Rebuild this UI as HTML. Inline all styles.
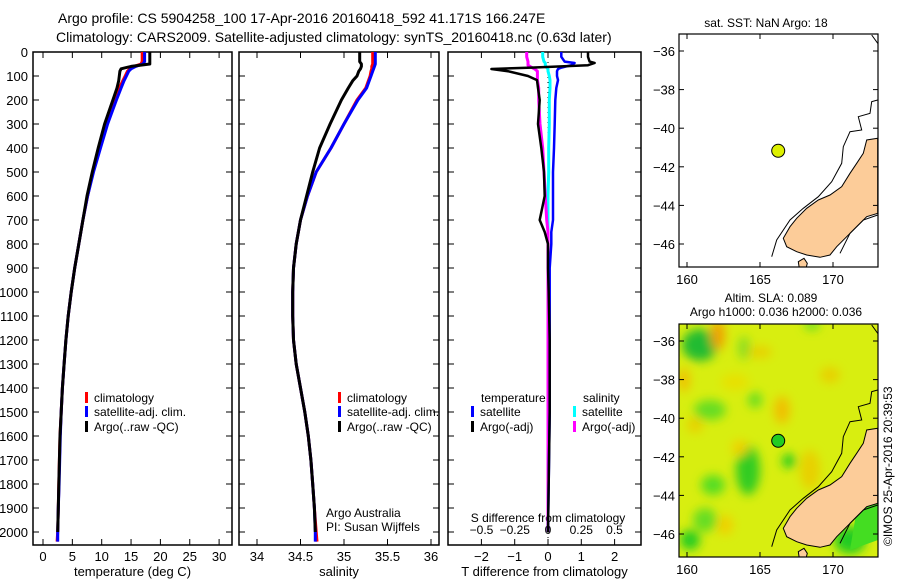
<!DOCTYPE html>
<html><head><meta charset="utf-8">
<style>
body{margin:0;background:#fff;}
svg{display:block;font-family:"Liberation Sans",sans-serif;}
text{fill:#000;}
</style></head>
<body>
<svg id="fig" width="900" height="580" viewBox="0 0 900 580">
<text x="58" y="23" font-size="14">Argo profile: CS 5904258_100 17-Apr-2016 20160418_592 41.171S 166.247E</text>
<text x="56" y="42" font-size="14">Climatology: CARS2009. Satellite-adjusted climatology: synTS_20160418.nc (0.63d later)</text>
<g id="p1"></g>
<g id="p2"></g>
<g id="p3"></g>
<g id="m1"></g>
<g id="m2"></g>
<text transform="translate(892,546) rotate(-90)" font-size="12">©IMOS 25-Apr-2016 20:39:53</text>
</svg>
<script>
// ---------- data ----------
const depths = [0,40,50,60,70,80,100,120,150,200,300,400,500,600,700,800,900,1000,1100,1200,1300,1400,1500,1600,1700,1800,1900,2000,2040];
const tempClim = [16.9,16.9,16.7,15.5,14.8,14.4,14.0,13.6,13.0,12.2,10.8,9.6,8.5,7.6,6.8,6.1,5.4,4.8,4.3,3.9,3.6,3.3,3.1,2.9,2.8,2.7,2.6,2.5,2.4];
const tempSat = [17.3,17.3,17.0,15.8,15.0,14.6,14.2,13.8,13.3,12.5,11.0,9.8,8.6,7.6,6.8,6.1,5.4,4.8,4.3,3.9,3.6,3.3,3.1,2.95,2.85,2.75,2.6,2.5,2.5];
const tempArgo = [18.2,18.2,18.2,15.0,13.3,13.1,13.0,12.9,12.6,11.9,10.5,9.4,8.4,7.5,6.8,6.1,5.4,4.8,4.3,3.9,3.6,3.3,3.1,2.9,2.8,2.7,2.6,2.5,NaN];
const salClim = [35.33,35.33,35.33,35.32,35.32,35.31,35.3,35.28,35.25,35.15,35.0,34.85,34.68,34.58,34.5,34.45,34.42,34.41,34.41,34.42,34.45,34.5,34.55,34.59,34.62,34.64,34.66,34.68,34.69];
const salSat = [35.36,35.36,35.36,35.35,35.34,35.33,35.31,35.29,35.26,35.16,35.0,34.85,34.68,34.58,34.5,34.45,34.42,34.41,34.41,34.42,34.45,34.5,34.55,34.59,34.62,34.64,34.66,34.67,34.67];
const salArgo = [35.18,35.18,35.2,35.2,35.19,35.17,35.15,35.1,35.05,34.97,34.84,34.72,34.64,34.57,34.5,34.45,34.42,34.41,34.41,34.42,34.45,34.5,34.55,34.59,34.62,34.64,34.66,34.67,NaN];
const diffDepths = [0,20,40,46,55,65,71,80,100,117,150,200,300,400,500,600,700,750,800,900,1000,1200,1500,2000];
const tDiffArgo = [1.2,1.2,1.25,1.4,1.2,-0.5,-1.7,-1.2,-0.6,-0.33,-0.3,-0.25,-0.3,-0.2,-0.12,-0.1,-0.25,-0.1,0,0,0.02,0.05,0.05,0];
const tDiffSat = [0.4,0.4,0.5,0.8,0.7,0.4,0.3,0.27,0.27,0.3,0.25,0.22,0.2,0.18,0.15,0.15,0.15,0.1,0.1,0.05,0.05,0.05,0.05,0];
const sDiffArgo = [-0.16,-0.16,-0.15,-0.15,-0.15,-0.12,-0.1,-0.08,-0.08,-0.08,-0.07,-0.07,-0.06,-0.04,-0.03,-0.02,-0.01,0,0,0,0,0,0,0];
const sDiffSat = [-0.04,-0.04,-0.03,-0.02,-0.02,-0.01,0,0,0.01,0.015,0.015,0.01,0.01,0.005,0.005,0,0,0,0,0,0,0,0,0];
const depthTicks = [0,100,200,300,400,500,600,700,800,900,1000,1100,1200,1300,1400,1500,1600,1700,1800,1900,2000];
const tempTicks = [0,5,10,15,20,25,30];
const salTicks = [34,34.5,35,35.5,36];
const tDiffTicks = [-2,-1,0,1,2];
const sDiffTicks = [-0.5,-0.25,0,0.25,0.5];
const sDiffTickLabels = ["\u22120.5","\u22120.25","0","0.25","0.5"];
const latTicks = [-36,-38,-40,-42,-44,-46];
const lonTicks = [160,165,170];
const argoLon = 166.247, argoLat = -41.171;

const NS = "http://www.w3.org/2000/svg";
function mk(parent, tag, attrs, txt){
  const e = document.createElementNS(NS, tag);
  for (const k in attrs) e.setAttribute(k, attrs[k]);
  if (txt !== undefined) e.textContent = txt;
  parent.appendChild(e); return e;
}
const TOP = 52, BOT = 545;
function yD(d){ return 52 + d*0.24; }

function panel(g, x0, x1, xs, ticks, labels, xlabel){
  const r = mk(g,'rect',{x:x0,y:TOP,width:x1-x0,height:BOT-TOP,fill:'none',stroke:'#000','stroke-width':1.5});
  
  
  depthTicks.forEach(d=>{
    const y = yD(d);
    mk(g,'line',{x1:x0,x2:x0+6,y1:y,y2:y,stroke:'#000'});
    mk(g,'line',{x1:x1-6,x2:x1,y1:y,y2:y,stroke:'#000'});
  });
  ticks.forEach((t,i)=>{
    const x = xs(t);
    mk(g,'line',{x1:x,x2:x,y1:TOP,y2:TOP+6,stroke:'#000'});
    mk(g,'line',{x1:x,x2:x,y1:BOT-6,y2:BOT,stroke:'#000'});
    if(labels){
      const tl = mk(g,'text',{x:x,y:BOT+16,'font-size':13,'text-anchor':'middle'},labels[i]);
      
      
    }
  });
  if(xlabel){
    const xl = mk(g,'text',{x:(x0+x1)/2,y:BOT+31,'font-size':13,'text-anchor':'middle'},xlabel);
    
    
  }
}
function series(g, xs, ds, vs, color, w, name){
  let d='', pen=false;
  ds.forEach((dep,i)=>{
    const v = vs[i];
    if(isNaN(v)){ pen=false; return; }
    d += (pen?'L':'M') + xs(v).toFixed(1) + ',' + yD(dep).toFixed(1) + ' ';
    pen = true;
  });
  const p = mk(g,'path',{d:d,fill:'none',stroke:color,'stroke-width':w,'stroke-linejoin':'round'});
  
  
}
function legendItem(g,x,y,color,label,name){
  mk(g,'rect',{x:x,y:y-10,width:3,height:11,fill:color});
  const t = mk(g,'text',{x:x+9,y:y,'font-size':12},label);
  
  
}

// Panel 1: temperature
const p1 = document.getElementById('p1');
const xT = v => 43 + v*5.87;
panel(p1,33,232,xT,tempTicks,tempTicks.map(String),'temperature (deg C)');
depthTicks.forEach(d=>{
  const t = mk(p1,'text',{x:28,y:yD(d)+5,'font-size':13,'text-anchor':'end'},String(d));
  
  
});
series(p1,xT,depths,tempClim,'#ff0000',3,'temp-climatology-line');
series(p1,xT,depths,tempSat,'#0000ff',3,'temp-satellite-line');
series(p1,xT,depths,tempArgo,'#000000',3,'temp-argo-line');
legendItem(p1,85,402,'#ff0000','climatology','legend-climatology');
legendItem(p1,85,416,'#0000ff','satellite-adj. clim.','legend-satellite');
legendItem(p1,85,431,'#000000','Argo(..raw -QC)','legend-argo');

// Panel 2: salinity
const p2 = document.getElementById('p2');
const xS = v => 257 + (v-34)*87;
panel(p2,239,439,xS,salTicks,salTicks.map(String),'salinity');
series(p2,xS,depths,salClim,'#ff0000',3,'sal-climatology-line');
series(p2,xS,depths,salSat,'#0000ff',3,'sal-satellite-line');
series(p2,xS,depths,salArgo,'#000000',3,'sal-argo-line');
legendItem(p2,338,402,'#ff0000','climatology','legend-climatology');
legendItem(p2,338,416,'#0000ff','satellite-adj. clim.','legend-satellite');
legendItem(p2,338,431,'#000000','Argo(..raw -QC)','legend-argo');
const cr1 = mk(p2,'text',{x:326,y:517,'font-size':12},'Argo Australia');
 
const cr2 = mk(p2,'text',{x:326,y:531,'font-size':12},'PI: Susan Wijffels');
 

// Panel 3: differences
const p3 = document.getElementById('p3');
const xTD = v => 548 + v*33.3;
const xSD = v => 548 + v*133;
panel(p3,448,641,xTD,tDiffTicks,tDiffTicks.map(v=>v<0?'\u2212'+(-v):String(v)),'T difference from climatology');
sDiffTicks.forEach((t,i)=>{
  const tl = mk(p3,'text',{x:xSD(t),y:534,'font-size':12,'text-anchor':'middle'},sDiffTickLabels[i]);
  
  
});
const sdt = mk(p3,'text',{x:548,y:522,'font-size':12,'text-anchor':'middle'},'S difference from climatology');
 
// zero reference dotted line
mk(p3,'line',{x1:548,x2:548,y1:TOP,y2:BOT,stroke:'#000','stroke-dasharray':'1,4'});
series(p3,xSD,diffDepths,sDiffSat,'#00ffff',3,'s-diff-satellite-line');
series(p3,xSD,diffDepths,sDiffArgo,'#ff00ff',3,'s-diff-argo-line');
series(p3,xTD,diffDepths,tDiffSat,'#0000ff',2.5,'t-diff-satellite-line');
series(p3,xTD,diffDepths,tDiffArgo,'#000000',2.5,'t-diff-argo-line');
const lt = mk(p3,'text',{x:481,y:402,'font-size':12},'temperature');
 
const ls = mk(p3,'text',{x:583,y:402,'font-size':12},'salinity');
 
legendItem(p3,471,416,'#0000ff','satellite','legend-t-satellite');
legendItem(p3,471,431,'#000000','Argo(-adj)','legend-t-argo');
legendItem(p3,573,416,'#00ffff','satellite','legend-s-satellite');
legendItem(p3,573,431,'#ff00ff','Argo(-adj)','legend-s-argo');

// ---------- maps ----------
const lonX = lon => 687 + (lon-160)*14.6;
const latY = (lat,oy) => oy + 51 + (-36-lat)*19.3;
const landPts = [[683,415],[650,420],[640,460],[620,490],[600,520],[575,560],[540,585],[505,600],[470,625],[440,655],[420,680],[400,715],[410,740],[440,755],[470,765],[510,772],[540,765],[560,740],[590,710],[620,680],[650,650],[683,640]];
const islandPts = [[445,785],[462,775],[472,790],[468,805],[448,805]];
const contour1 = [[683,300],[665,305],[660,340],[625,350],[635,390],[600,395],[580,440],[575,490],[545,545],[505,590],[460,625],[420,660],[380,720],[365,770]];
const contour2 = [[683,645],[640,660],[600,700],[570,760]];
const contour3 = [[665,105],[683,130]];
function pts(arr,oy){ return arr.map(p=>(650+p[0]/3).toFixed(1)+','+(oy+p[1]/3).toFixed(1)).join(' '); }

function mapFrame(g, oy, bg){
  const x0=679,x1=878,y0=oy+34,y1=oy+267;
  const cid='clip'+oy;
  const cp = mk(g,'clipPath',{id:cid});
  mk(cp,'rect',{x:x0,y:y0,width:x1-x0,height:y1-y0});
  const inner = mk(g,'g',{'clip-path':'url(#'+cid+')'});
  mk(inner,'rect',{x:x0,y:y0,width:x1-x0,height:y1-y0,fill:bg});
  return {inner,x0,x1,y0,y1};
}
function mapDecor(g,f,oy,dotColor){
  const land = mk(f.inner,'polygon',{points:pts(landPts,oy),fill:'#fccc99',stroke:'#000','stroke-width':1});
   
  mk(f.inner,'polygon',{points:pts(islandPts,oy),fill:'#fccc99',stroke:'#000'});
  [contour1,contour2,contour3].forEach(c=>mk(f.inner,'polyline',{points:pts(c,oy),fill:'none',stroke:'#000','stroke-width':1}));
  const fr = mk(g,'rect',{x:f.x0,y:f.y0,width:f.x1-f.x0,height:f.y1-f.y0,fill:'none',stroke:'#000','stroke-width':1.2});
   
  latTicks.forEach(l=>{
    const y = latY(l,oy);
    mk(g,'line',{x1:f.x0,x2:f.x0+5,y1:y,y2:y,stroke:'#000'});
    mk(g,'line',{x1:f.x1-5,x2:f.x1,y1:y,y2:y,stroke:'#000'});
    const t = mk(g,'text',{x:f.x0-4,y:y+5,'font-size':13,'text-anchor':'end'},String(l).replace('-','\u2212'));
     
  });
  lonTicks.forEach(l=>{
    const x = lonX(l);
    mk(g,'line',{x1:x,x2:x,y1:f.y0,y2:f.y0+5,stroke:'#000'});
    mk(g,'line',{x1:x,x2:x,y1:f.y1-5,y2:f.y1,stroke:'#000'});
    const t = mk(g,'text',{x:x,y:f.y1+17,'font-size':13,'text-anchor':'middle'},String(l));
     
  });
  const dot = mk(g,'circle',{cx:lonX(argoLon),cy:latY(argoLat,oy),r:6.5,fill:dotColor,stroke:'#000'});
   
}
const m1 = document.getElementById('m1');
const f1 = mapFrame(m1,0,'#ffffff');
mapDecor(m1,f1,0,'#ddf000');
const mt1 = mk(m1,'text',{x:766,y:27,'font-size':12,'text-anchor':'middle'},'sat. SST: NaN Argo: 18');
 

const m2 = document.getElementById('m2');
const f2 = mapFrame(m2,290,'#d8ee10');
// SLA field blobs (image-like background)
const flt = mk(m2,'filter',{id:'blur'}); mk(flt,'feGaussianBlur',{stdDeviation:5});
const blobs = mk(f2.inner,'g',{filter:'url(#blur)'});
[[700,345,18,16,'#22bb33'],[718,335,7,15,'#f0a000'],[744,348,6,12,'#88dd22'],[760,352,12,6,'#e8d000'],[735,382,14,8,'#e8e000'],[710,410,16,10,'#66dd22'],[695,425,8,8,'#e8d000'],[782,410,8,14,'#f0c000'],[755,400,7,8,'#66dd22'],[748,470,12,25,'#33cc22'],[740,448,8,8,'#f0d000'],[713,485,12,10,'#55dd22'],[705,520,12,12,'#66dd22'],[690,540,10,10,'#22cc22'],[850,540,16,14,'#22cc22'],[830,375,10,8,'#e8d000'],[810,470,10,20,'#e8d000'],[789,461,7,7,'#22cc22'],[812,325,8,5,'#66dd22'],[684,380,6,12,'#f0c000'],[725,525,8,10,'#f0d000']].forEach(b=>{
  mk(blobs,'ellipse',{cx:b[0],cy:b[1],rx:b[2],ry:b[3],fill:b[4]});
});
mk(f2.inner,'polygon',{points:'860,490 878,485 878,540 850,550',fill:'#44dd22'});
mapDecor(m2,f2,290,'#22cc22');
const mt2 = mk(m2,'text',{x:771,y:302,'font-size':12,'text-anchor':'middle'},'Altim. SLA: 0.089');
 
const mt3 = mk(m2,'text',{x:776,y:316,'font-size':12,'text-anchor':'middle'},'Argo h1000: 0.036 h2000: 0.036');
 
</script>
</body></html>
